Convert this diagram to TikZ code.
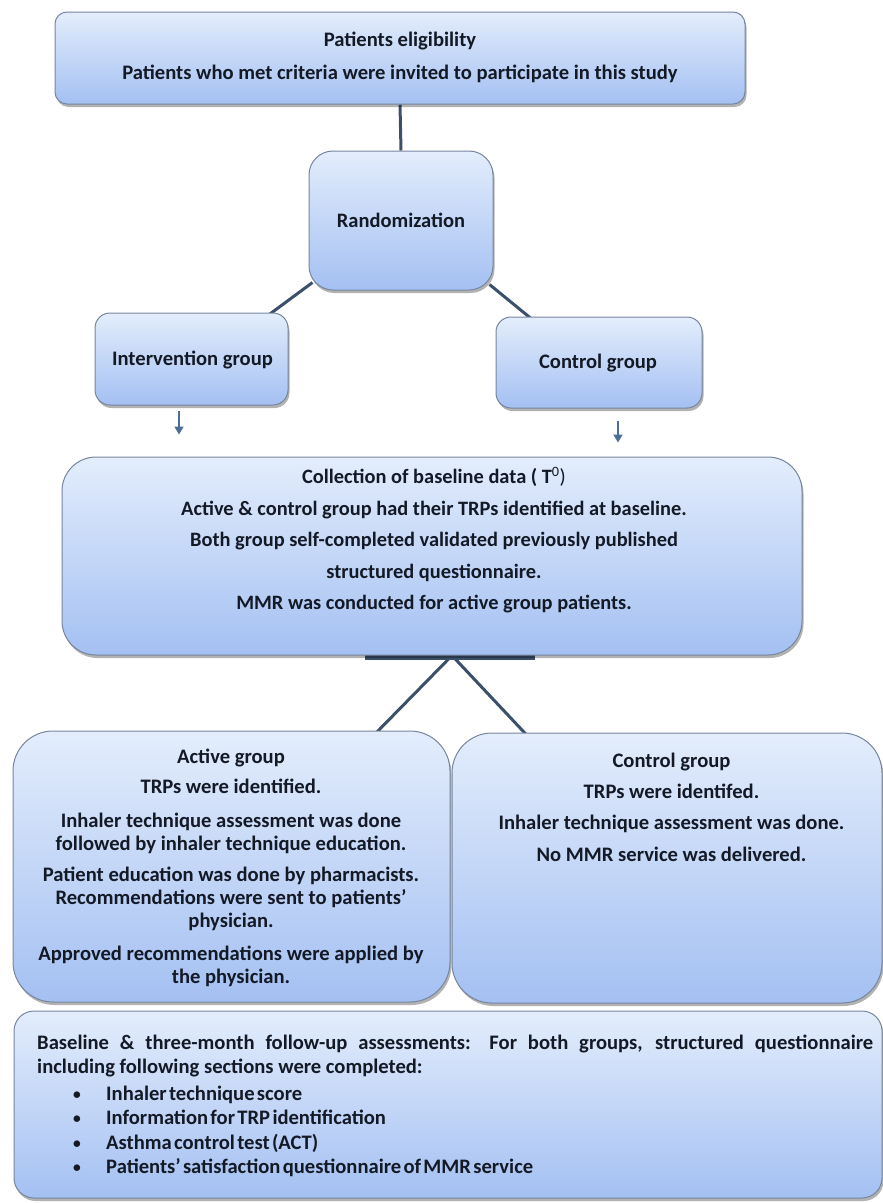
\documentclass[tikz,border=0pt]{standalone}
\usepackage{fontspec}
\setmainfont{Carlito}
\newfontfamily\itemfont[WordSpace=0.5]{Carlito}
\usetikzlibrary{shadows,arrows.meta,calc}
\definecolor{boxtop}{HTML}{E3EDFC}
\definecolor{boxbot}{HTML}{A4C0F2}
\definecolor{boxline}{HTML}{76869E}
\definecolor{conn}{HTML}{3C506B}
\definecolor{arrc}{HTML}{4D6D98}
\definecolor{txtc}{HTML}{141926}
\pgfdeclarelayer{bg}\pgfsetlayers{bg,main}
\newcommand{\itembul}{\makebox[69pt][l]{\hspace{36pt}\raisebox{1pt}{\scalebox{0.75}{•}}}}
\tikzset{
  box/.style={draw=boxline, line width=1pt, rounded corners=#1, top color=boxtop, bottom color=boxbot,
    drop shadow={shadow xshift=1.5pt, shadow yshift=-3pt, opacity=0.3, fill=black}, inner sep=0pt},
  box/.default=15pt,
  txt/.style={text=txtc, align=center, inner sep=0pt},
  conline/.style={draw=conn, line width=3pt},
  smallarrow/.style={draw=arrc, line width=1.6pt, -{Triangle[length=8pt,width=9pt]}},
}
\begin{document}
\begin{tikzpicture}[x=1pt,y=-1pt]
\useasboundingbox (0,0) rectangle (883,1203);
% boxes
\node[box=12pt, minimum width=690pt, minimum height=92pt] (topb) at (400,58) {};
\node[box=24pt, minimum width=184pt, minimum height=139pt] (rand) at (401,220.5) {};
\node[box=15pt, minimum width=193pt, minimum height=92pt] (interv) at (191.5,359) {};
\node[box=15pt, minimum width=206pt, minimum height=91pt] (ctrl) at (599,362.5) {};
\fill[conn] (365,648) rectangle (535,660);
\node[box=34pt, minimum width=740pt, minimum height=198pt] (mid) at (432,556) {};
\node[box=40pt, minimum width=437pt, minimum height=271pt] (active) at (231.5,866.5) {};
\node[box=40pt, minimum width=430pt, minimum height=270pt] (ctrlb) at (667,868) {};
\node[box=20pt, minimum width=868pt, minimum height=187pt] (bottom) at (448,1104.5) {};
% texts
\node[txt, font=\bfseries\fontsize{20.6}{33}\selectfont] (toptxt) at (400,57.5)
  {Patients eligibility\\Patients who met criteria were invited to participate in this study};
\node[txt, font=\bfseries\fontsize{20.5}{24}\selectfont] (randtxt) at (401,220) {Randomization};
\node[txt, font=\bfseries\fontsize{20.6}{24}\selectfont] (intervtxt) at (192.5,360) {Intervention group};
\node[txt, font=\bfseries\fontsize{20.6}{24}\selectfont] (ctrltxt) at (598,363) {Control group};
\node[txt, font=\bfseries\fontsize{20.4}{31.5}\selectfont] (midtxt) at (434,540)
  {Collection of baseline data ( T\textsuperscript{\mdseries 0}{\mdseries )}\\
   Active \& control group had their TRPs identified at baseline.\\
   Both group self-completed validated previously published\\
   structured questionnaire.\\
   MMR was conducted for active group patients.};
\node[txt, font=\bfseries\fontsize{20.6}{23}\selectfont] (activetxt) at (231,867.5)
  {Active group\\[7pt]
   TRPs were identified.\\[11pt]
   Inhaler technique assessment was done\\
   followed by inhaler technique education.\\[8pt]
   Patient education was done by pharmacists.\\
   Recommendations were sent to patients’\\
   physician.\\[10pt]
   Approved recommendations were applied by\\
   the physician.};
\node[txt, font=\bfseries\fontsize{20.6}{31.3}\selectfont] (ctrlbtxt) at (671.5,807)
  {Control group\\
   TRPs were identifed.\\
   Inhaler technique assessment was done.\\
   No MMR service was delivered.};
\node[txt, align=left, anchor=west, font=\bfseries\fontsize{20.6}{24}\selectfont] (bottomtxt) at (37,1106)
  {\makebox[836pt][s]{Baseline \& three-month follow-up assessments: For both groups, structured questionnaire}\\
   including following sections were completed:\\[3pt]
   {\itemfont\itembul Inhaler technique score}\\[0.5pt]
   {\itemfont\itembul Information for TRP identification}\\[0.5pt]
   {\itemfont\itembul Asthma control test (ACT)}\\[0.5pt]
   {\itemfont\itembul Patients’ satisfaction questionnaire of MMR service}};
% connectors
\begin{pgfonlayer}{bg}
\draw[conline] (topb.south) -- (rand.north);
\draw[conline] ($(rand.south west)+(4,-8)$) -- ($(interv.north east)+(-22,4)$);
\draw[conline] ($(rand.south east)+(-4,-6)$) -- ($(ctrl.north west)+(38,4)$);
\draw[conline] ($(mid.south)+(20,0)$) -- ($(active.north)+(141,6)$);
\draw[conline] ($(mid.south)+(20,0)$) -- ($(ctrlb.north)+(-137,6)$);
\end{pgfonlayer}
\draw[smallarrow] ($(interv.south)+(-12.5,5)$) -- ($(interv.south)+(-12.5,29)$);
\draw[smallarrow] ($(ctrl.south)+(19,12)$) -- ($(ctrl.south)+(19,34)$);
\end{tikzpicture}
\end{document}
